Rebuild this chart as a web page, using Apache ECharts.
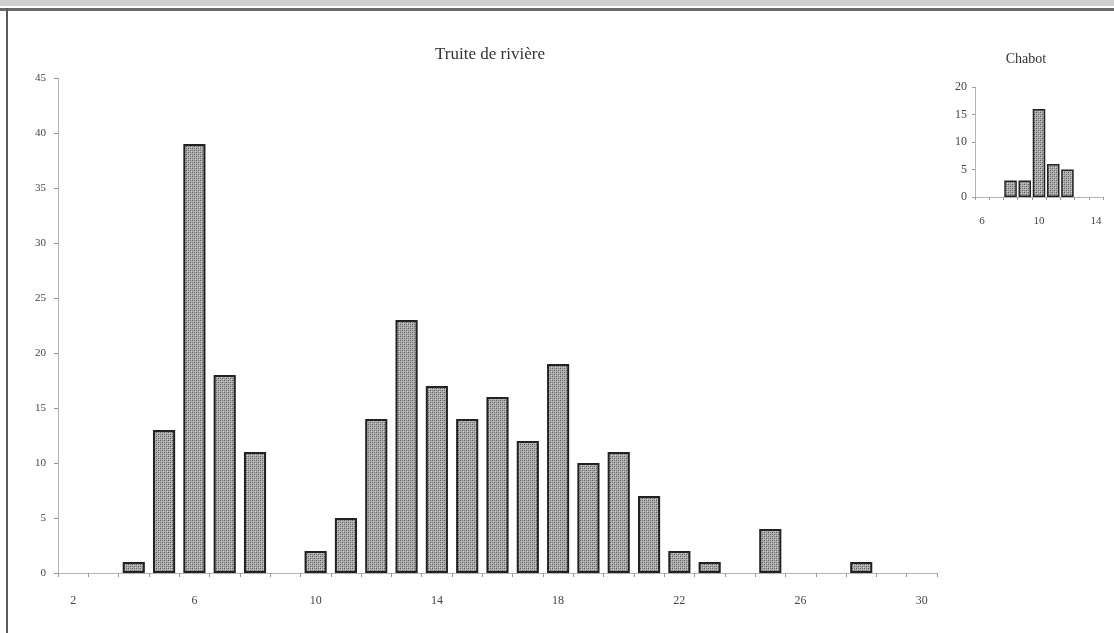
<!DOCTYPE html>
<html>
<head>
<meta charset="utf-8">
<script src="https://cdn.jsdelivr.net/npm/echarts@6/dist/echarts.min.js"></script>
<style>
html,body{margin:0;padding:0;background:#fff;}
#c{width:1114px;height:633px;}
</style>
</head>
<body>
<div id="c"></div>
<script>
// Main chart: Truite de rivière (size classes 2..30)
const troutTitle = 'Truite de rivière';
const troutCategories = ['2','3','4','5','6','7','8','9','10','11','12','13','14','15','16','17','18','19','20','21','22','23','24','25','26','27','28','29','30'];
const troutCounts = [0,0,1,13,39,18,11,0,2,5,14,23,17,14,16,12,19,10,11,7,2,1,0,4,0,0,1,0,0];
const troutYTicks = [0,5,10,15,20,25,30,35,40,45];

// Inset chart: Chabot (size classes 6..14)
const chabotTitle = 'Chabot';
const chabotCategories = ['6','7','8','9','10','11','12','13','14'];
const chabotCounts = [0,0,3,3,16,6,5,0,0];
const chabotYTicks = [0,5,10,15,20];

// empty classes draw no bar
const hideZero = arr => arr.map(v => v === 0 ? '-' : v);

// dotted pattern fill
function makePattern(){
  const cv = document.createElement('canvas');
  cv.width = 4; cv.height = 4;
  const ctx = cv.getContext('2d');
  ctx.fillStyle = '#acacac';
  ctx.fillRect(0,0,4,4);
  ctx.fillStyle = '#5e5e5e';
  ctx.fillRect(0,0,1,1); ctx.fillRect(2,2,1,1);
  ctx.fillStyle = '#808080';
  ctx.fillRect(2,0,1,1); ctx.fillRect(0,2,1,1);
  ctx.fillStyle = '#c8c8c8';
  ctx.fillRect(1,1,1,1); ctx.fillRect(3,3,1,1);
  return {image: cv, repeat: 'repeat'};
}
const pattern = makePattern();

const font = 'Liberation Serif';
const chart = echarts.init(document.getElementById('c'), null, {renderer:'canvas'});

const axisLineStyle = {color:'#b5b5b5', width:1};

chart.setOption({
  backgroundColor:'#fff',
  animation:false,
  title:[
    {text:troutTitle, left:485, top:41, textAlign:'center',
     textStyle:{fontFamily:font, fontSize:17, fontWeight:'normal', color:'#333'}},
    {text:chabotTitle, left:1021, top:47, textAlign:'center',
     textStyle:{fontFamily:font, fontSize:14, fontWeight:'normal', color:'#333'}}
  ],
  grid:[
    {left:58, right:177, top:78, bottom:60},
    {left:975, right:11, top:87, bottom:436}
  ],
  xAxis:[
    {type:'category', gridIndex:0, data:troutCategories, boundaryGap:true,
     axisLine:{lineStyle:axisLineStyle},
     axisTick:{show:true, interval:0, length:4, lineStyle:{color:'#999'}},
     axisLabel:{interval:3, margin:22, color:'#444', fontFamily:font, fontSize:12}},
    {type:'category', gridIndex:1, data:chabotCategories, boundaryGap:true,
     axisLine:{lineStyle:axisLineStyle},
     axisTick:{show:true, interval:0, length:3, lineStyle:{color:'#999'}},
     axisLabel:{interval:3, margin:19, color:'#444', fontFamily:font, fontSize:11}}
  ],
  yAxis:[
    {type:'value', gridIndex:0, min:troutYTicks[0], max:troutYTicks[troutYTicks.length-1], interval:5,
     axisLine:{show:true, lineStyle:axisLineStyle},
     axisTick:{show:true, length:4, lineStyle:{color:'#999'}},
     splitLine:{show:false},
     axisLabel:{margin:12, fontSize:11, color:'#444', fontFamily:font}},
    {type:'value', gridIndex:1, min:chabotYTicks[0], max:chabotYTicks[chabotYTicks.length-1], interval:5,
     axisLine:{show:true, lineStyle:axisLineStyle},
     axisTick:{show:true, length:3, lineStyle:{color:'#999'}},
     splitLine:{show:false},
     axisLabel:{margin:8, fontSize:12, color:'#444', fontFamily:font}}
  ],
  series:[
    {type:'bar', xAxisIndex:0, yAxisIndex:0, data:hideZero(troutCounts), barCategoryGap:'27%',
     itemStyle:{color:pattern, borderColor:'#222', borderWidth:2}},
    {type:'bar', xAxisIndex:1, yAxisIndex:1, data:hideZero(chabotCounts), barCategoryGap:'12%',
     itemStyle:{color:pattern, borderColor:'#222', borderWidth:1.5}}
  ],
  graphic:[
    {type:'rect', shape:{x:0,y:0,width:1114,height:6}, style:{fill:'#d0d0d0'}, silent:true},
    {type:'rect', shape:{x:0,y:8,width:1114,height:3}, style:{fill:'#6a6a6a'}, silent:true},
    {type:'rect', shape:{x:6,y:8,width:2,height:625}, style:{fill:'#5a5a5a'}, silent:true}
  ]
});
</script>
</body>
</html>
